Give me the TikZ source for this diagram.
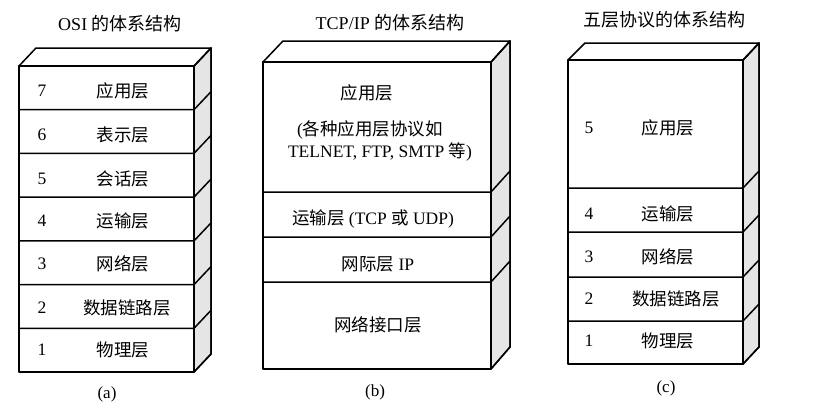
\documentclass[tikz,border=0pt]{standalone}
\usepackage{fontspec}
\setmainfont{Liberation Serif}
\newfontfamily\cjk{Noto Sans CJK SC}
\begin{document}
\begin{tikzpicture}[x=1pt,y=-1pt,line width=1.5pt,line join=round,
  front/.style={draw=black,fill=white},
  topface/.style={draw=black,fill=white},
  sideface/.style={draw=black,fill=black!10},
  divider/.style={draw=black},
  txt/.style={font=\fontsize{17.5}{20}\selectfont,inner sep=0pt},
  ttl/.style={font=\fontsize{18}{20}\selectfont,inner sep=0pt},
  captxt/.style={font=\fontsize{17}{19}\selectfont,inner sep=0pt}]
\useasboundingbox[fill=white] (0,0) rectangle (823,407);

% ---------- box (a) ----------
\fill[sideface] (194,66) -- (211,48) -- (211,354) -- (194,372) -- cycle;
\fill[topface] (19,66) -- (36,48) -- (211,48) -- (194,66) -- cycle;
\draw[front] (19,66) rectangle (194,372);
\draw (194,66) -- (211,48) -- (211,354) -- (194,372);
\foreach \y in {109.7,153.4,197.1,240.9,284.6,328.3}
  {\draw[divider] (19,\y) -- (194,\y) -- (211,\y-18);}

\node[ttl] (ta) at (120,24) {OSI {\cjk 的体系结构}};
\node[txt] (a7n) at (42,91) {7};   \node[txt] (a7) at (123,91) {\cjk 应用层};
\node[txt] (a6n) at (42,135) {6};  \node[txt] (a6) at (123,135) {\cjk 表示层};
\node[txt] (a5n) at (42,179) {5};  \node[txt] (a5) at (123,179) {\cjk 会话层};
\node[txt] (a4n) at (42,221) {4};  \node[txt] (a4) at (123,221) {\cjk 运输层};
\node[txt] (a3n) at (42,264) {3};  \node[txt] (a3) at (123,264) {\cjk 网络层};
\node[txt] (a2n) at (42,308) {2};  \node[txt] (a2) at (127,308) {\cjk 数据链路层};
\node[txt] (a1n) at (42,350) {1};  \node[txt] (a1) at (123,350) {\cjk 物理层};
\node[captxt] (ca) at (107,394) {(a)};

% ---------- box (b) ----------
\fill[sideface] (491,62) -- (510,41) -- (510,347) -- (491,369) -- cycle;
\fill[topface] (263,62) -- (283,41) -- (510,41) -- (491,62) -- cycle;
\draw[front] (263,62) rectangle (491,369);
\draw (491,62) -- (510,41) -- (510,347) -- (491,369);
\foreach \y in {192,237,282}
  {\draw[divider] (263,\y) -- (491,\y) -- (510,\y-21);}

\node[ttl] (tb) at (390,23) {TCP/IP {\cjk 的体系结构}};
\node[txt] (b4) at (367,93) {\cjk 应用层};
\node[txt] (b4a) at (370,130) {({\cjk 各种应用层协议如}};
\node[txt] (b4b) at (380,152) {TELNET, FTP, SMTP {\cjk 等})};
\node[txt] (b3) at (373,219) {{\cjk 运输层} (TCP {\cjk 或} UDP)};
\node[txt] (b2) at (378,264) {{\cjk 网际层} IP};
\node[txt] (b1) at (378,325) {\cjk 网络接口层};
\node[captxt] (cb) at (375,392) {(b)};

% ---------- box (c) ----------
\fill[sideface] (743,60) -- (759,43) -- (759,347) -- (743,364) -- cycle;
\fill[topface] (568,60) -- (585,43) -- (759,43) -- (743,60) -- cycle;
\draw[front] (568,60) rectangle (743,364);
\draw (743,60) -- (759,43) -- (759,347) -- (743,364);
\foreach \y in {188,232,277,321}
  {\draw[divider] (568,\y) -- (743,\y) -- (759,\y-17);}

\node[ttl] (tc) at (664,20) {\cjk 五层协议的体系结构};
\node[txt] (c5n) at (589,128) {5};  \node[txt] (c5) at (668,128) {\cjk 应用层};
\node[txt] (c4n) at (589,214) {4};  \node[txt] (c4) at (668,214) {\cjk 运输层};
\node[txt] (c3n) at (589,257) {3};  \node[txt] (c3) at (668,257) {\cjk 网络层};
\node[txt] (c2n) at (589,299) {2};  \node[txt] (c2) at (676,299) {\cjk 数据链路层};
\node[txt] (c1n) at (589,341) {1};  \node[txt] (c1) at (668,341) {\cjk 物理层};
\node[captxt] (cc) at (666,388) {(c)};
\end{tikzpicture}
\end{document}
